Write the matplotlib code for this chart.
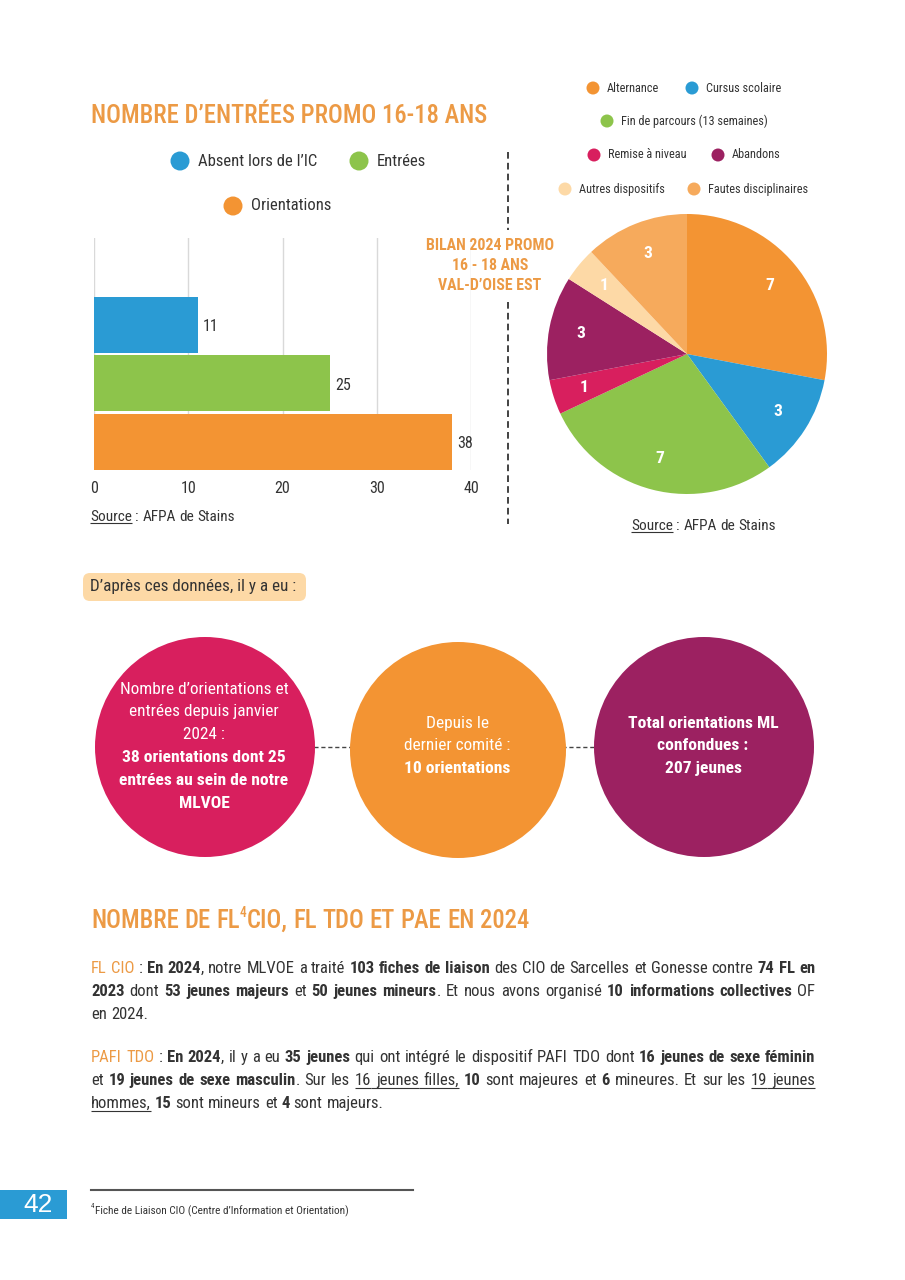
import numpy as np
import matplotlib
matplotlib.use('Agg')
import matplotlib.pyplot as plt
from matplotlib import font_manager as fm
from matplotlib.patches import Circle, FancyBboxPatch, Rectangle

# ---------------- data ----------------
bar_categories = ["Orientations", "Entrées", "Absent lors de l’IC"]
bar_values = [38, 25, 11]
bar_ticks = [0, 10, 20, 30, 40]

pie_labels = ["Alternance", "Cursus scolaire", "Fin de parcours (13 semaines)",
              "Remise à niveau", "Abandons", "Autres dispositifs", "Fautes disciplinaires"]
pie_values = [7, 3, 7, 1, 3, 1, 3]

circle_normal = [["Nombre d’orientations et", "entrées depuis janvier", "2024 :"],
                 ["Depuis le", "dernier comité :"],
                 []]
circle_bold = [["38 orientations dont 25", "entrées au sein de notre", "MLVOE"],
               ["10 orientations"],
               ["Total orientations ML", "confondues :", "207 jeunes"]]

title1 = "NOMBRE D’ENTRÉES PROMO 16-18 ANS"
bilan_lines = ["BILAN 2024 PROMO", "16 - 18 ANS", "VAL-D’OISE EST"]

# ---------------- colours ----------------
ORANGE = '#F39433'; BLUE = '#2A9BD4'; GREEN = '#8DC44B'; CRIMSON = '#D81F5E'
PURPLE = '#9C2161'; PEACH = '#FDD9A6'; LORANGE = '#F6AA5C'; TITLE = '#EC9A45'
TXT = '#333333'
bar_colors = [ORANGE, GREEN, BLUE]
pie_colors = [ORANGE, BLUE, GREEN, CRIMSON, PURPLE, PEACH, LORANGE]
circle_colors = [CRIMSON, ORANGE, PURPLE]

# ---------------- fonts ----------------
_entries = fm.fontManager.ttflist
_names = {f.name for f in _entries}
FAM, STRETCH = 'Roboto', 'normal'
for cand in ['Roboto Condensed', 'Liberation Sans Narrow', 'Open Sans Condensed']:
    if cand in _names:
        FAM = cand
        break
else:
    if any(f.name == 'DejaVu Sans' and str(f.stretch) in ('condensed', 'semi-condensed')
           for f in _entries):
        FAM, STRETCH = 'DejaVu Sans', 'condensed'
plt.rcParams['font.family'] = [FAM, 'DejaVu Sans']
plt.rcParams['font.stretch'] = STRETCH

# ---------------- figure ----------------
fig = plt.figure(figsize=(9.05, 12.8), dpi=100)
fig.patch.set_facecolor('white')
ax0 = fig.add_axes([0, 0, 1, 1])
ax0.set_xlim(0, 905)
ax0.set_ylim(1280, 0)
ax0.axis('off')
R = fig.canvas.get_renderer()


def width_of(s, size, weight='normal'):
    t = ax0.text(0, 0, s, fontsize=size, fontweight=weight)
    w = t.get_window_extent(renderer=R).width
    t.remove()
    return w


def fit(s, target, weight='normal'):
    return 20.0 * target / width_of(s, 20.0, weight)


def style_kw(st, size, color, base_weight):
    kw = dict(fontsize=size, color=color, fontweight=base_weight)
    if 'b' in st:
        kw['fontweight'] = 'bold'
    if 'o' in st:
        kw['color'] = TITLE
    if 's' in st:
        kw['fontsize'] = size * 0.55
    return kw


def draw_line(x, y, pieces, size, width=None, measure=False, color=TXT, base_weight='normal'):
    words = [[]]
    for text, st in pieces:
        buf = ''
        for ch in text:
            if ch == ' ':
                if buf:
                    words[-1].append((buf, st))
                    buf = ''
                if words[-1]:
                    words.append([])
            else:
                buf += ch
        if buf:
            words[-1].append((buf, st))
    words = [w for w in words if w]
    sp = width_of('x x', size) - width_of('xx', size)
    objs, wws = [], []
    for w in words:
        row, tot = [], 0
        for text, st in w:
            t = ax0.text(0, y, text, va='baseline', ha='left',
                         **style_kw(st, size, color, base_weight))
            ww = t.get_window_extent(renderer=R).width
            row.append((t, ww, st))
            tot += ww
        objs.append(row)
        wws.append(tot)
    natural = sum(wws) + sp * (len(words) - 1)
    if measure:
        for row in objs:
            for t, _, _ in row:
                t.remove()
        return natural
    gap = sp
    if width is not None and len(words) > 1:
        gap = (width - sum(wws)) / (len(words) - 1)
    px = size * 100 / 72
    cx = x
    last_u_end = None
    for row in objs:
        for t, ww, st in row:
            yy = y - (0.45 * px if 's' in st else 0)
            t.set_position((cx, yy))
            if 'u' in st:
                us = last_u_end if last_u_end is not None else cx
                ax0.plot([us, cx + ww], [y + 0.16 * px, y + 0.16 * px],
                         color=t.get_color(), lw=0.8, solid_capstyle='butt')
                last_u_end = cx + ww
            else:
                last_u_end = None
            cx += ww
        cx += gap
    return natural


# ---------------- title 1 ----------------
TW = 500
t1_size = min(fit(title1, 397, TW), 30)
ax0.text(91, 123, title1, fontsize=t1_size, fontweight=TW, color=TITLE, va='baseline')

# ---------------- bar legend ----------------
leg_size = fit("Absent lors de l’IC", 119)
bar_leg_pos = [(233, 206), (359, 161), (180, 161)]  # Orientations, Entrées, Absent
for (cx, cy), lab, col in zip(bar_leg_pos, bar_categories, bar_colors):
    ax0.add_patch(Circle((cx, cy), 9.5, color=col, lw=0))
    ax0.text(cx + 18, cy, lab, fontsize=leg_size, color=TXT, va='center', ha='left')

# ---------------- bar chart ----------------
axb = fig.add_axes([94 / 905, 1 - 470 / 1280, 377 / 905, 232 / 1280])
axb.patch.set_alpha(0)
ypos = np.arange(len(bar_values))
axb.barh(ypos, bar_values, height=0.96, color=bar_colors, zorder=3)
axb.set_xlim(0, 40)
axb.set_ylim(-0.48, 3.48)
axb.set_xticks(bar_ticks)
axb.set_yticks([])
axb.grid(axis='x', color='#d9d9d9', lw=1, zorder=0)
for s in axb.spines.values():
    s.set_visible(False)
axb.tick_params(axis='x', length=0, pad=8, labelsize=11.5, labelcolor=TXT)
for y, v in zip(ypos, bar_values):
    axb.text(v + 0.55, y - 0.03, str(v), va='center', ha='left', fontsize=11.5, color=TXT, zorder=4)

src_size = fit("Source : AFPA de Stains", 145)
draw_line(90, 521, [("Source", 'u'), (" : AFPA de Stains", '')], src_size)

# ---------------- separator + bilan ----------------
ax0.plot([508, 508], [152, 230], color='#222222', lw=1.2, ls=(0, (4, 2.5)))
ax0.plot([508, 508], [302, 524], color='#222222', lw=1.2, ls=(0, (4, 2.5)))
bil_size = fit(bilan_lines[0], 129, 'bold')
for i, line in enumerate(bilan_lines):
    ax0.text(490, 245 + i * 20, line, fontsize=bil_size, fontweight='bold', color=TITLE,
             ha='center', va='center')

# ---------------- pie legend ----------------
pleg_size = fit("Fin de parcours (13 semaines)", 147)
pie_leg_pos = [(593, 88), (692, 88), (607, 121), (594, 155), (718, 155), (565, 189), (694, 189)]
for (cx, cy), lab, col in zip(pie_leg_pos, pie_labels, pie_colors):
    ax0.add_patch(Circle((cx, cy), 6.5, color=col, lw=0))
    ax0.text(cx + 14, cy, lab, fontsize=pleg_size, color=TXT, va='center', ha='left')

# ---------------- pie ----------------
axp = fig.add_axes([547 / 905, 1 - 494 / 1280, 280 / 905, 280 / 1280])
wedges, _ = axp.pie(pie_values, colors=pie_colors, startangle=90, counterclock=False,
                    wedgeprops=dict(linewidth=0))
axp.set_xlim(-1, 1)
axp.set_ylim(-1, 1)
for w, v in zip(wedges, pie_values):
    a = np.deg2rad((w.theta1 + w.theta2) / 2)
    axp.text(0.77 * np.cos(a), 0.77 * np.sin(a), str(v), ha='center', va='center',
             color='white', fontsize=12.5, fontweight='bold')

draw_line(631, 530, [("Source", 'u'), (" : AFPA de Stains", '')], src_size)

# ---------------- tag ----------------
ax0.add_patch(FancyBboxPatch((83, 573), 223, 28, boxstyle='round,pad=0,rounding_size=7',
                             fc=PEACH, ec='none'))
tag_size = fit("D’après ces données, il y a eu :", 206)
ax0.text(90, 587, "D’après ces données, il y a eu :", fontsize=tag_size, color=TXT,
         va='center', ha='left')

# ---------------- circles ----------------
circ_pos = [(205, 747, 110), (458, 750, 108), (704, 747, 110)]
ax0.plot([300, 360], [747, 747], color='#444444', lw=1, ls=(0, (3, 2)), zorder=1)
ax0.plot([555, 610], [747, 747], color='#444444', lw=1, ls=(0, (3, 2)), zorder=1)
cn_size = fit("Nombre d’orientations et", 168)
cb_size = fit("entrées au sein de notre", 168, 'bold')
for (cx, cy, r), col, nl, bl in zip(circ_pos, circle_colors, circle_normal, circle_bold):
    ax0.add_patch(Circle((cx, cy), r, color=col, lw=0, zorder=2))
    lines = [(l, 'normal', cn_size) for l in nl] + [(l, 'bold', cb_size) for l in bl]
    n = len(lines)
    y0 = 746 - (n - 1) / 2 * 22.8
    for i, (l, wgt, sz) in enumerate(lines):
        ax0.text(cx - 1, y0 + i * 22.8, l, fontsize=sz, fontweight=wgt, color='white',
                 ha='center', va='center', zorder=3)

# ---------------- title 2 ----------------
draw_line(91, 928, [("NOMBRE DE FL", 'o'), ("4", 'os'), ("CIO, FL TDO ET PAE EN 2024", 'o')],
          t1_size, base_weight=TW)

# ---------------- paragraphs ----------------
p1 = [
    [("FL CIO", 'o'), (" : ", ''), ("En 2024", 'b'), (", notre MLVOE a traité ", ''),
     ("103 fiches de liaison", 'b'), (" des CIO de Sarcelles et Gonesse contre ", ''), ("74 FL en", 'b')],
    [("2023", 'b'), (" dont ", ''), ("53 jeunes majeurs", 'b'), (" et ", ''), ("50 jeunes mineurs", 'b'),
     (". Et nous avons organisé ", ''), ("10 informations collectives", 'b'), (" OF", '')],
    [("en 2024.", '')],
]
p2 = [
    [("PAFI TDO", 'o'), (" : ", ''), ("En 2024", 'b'), (", il y a eu ", ''), ("35 jeunes", 'b'),
     (" qui ont intégré le dispositif PAFI TDO dont ", ''), ("16 jeunes de sexe féminin", 'b')],
    [("et ", ''), ("19 jeunes de sexe masculin", 'b'), (". Sur les ", ''), ("16 jeunes filles,", 'u'),
     (" ", ''), ("10", 'b'), (" sont majeures et ", ''), ("6", 'b'), (" mineures. Et sur les ", ''),
     ("19 jeunes", 'u')],
    [("hommes,", 'u'), (" ", ''), ("15", 'b'), (" sont mineurs et ", ''), ("4", 'b'),
     (" sont majeurs.", '')],
]
just = [p1[0], p1[1], p2[0], p2[1]]
body_size = min(10.0 * 724 * 0.985 / draw_line(0, 0, L, 10.0, measure=True) for L in just)
for i, L in enumerate(p1):
    draw_line(91, 973 + i * 23, L, body_size, width=724 if i < 2 else None)
for i, L in enumerate(p2):
    draw_line(91, 1062 + i * 23, L, body_size, width=724 if i < 2 else None)

# ---------------- footer ----------------
ax0.plot([91, 413], [1190, 1190], color='#555555', lw=1.5)
fn_text = "Fiche de Liaison CIO (Centre d’Information et Orientation)"
fn_size = fit(fn_text, 253)
ax0.text(91, 1208, "4", fontsize=fn_size * 0.6, color=TXT, va='baseline', ha='left')
ax0.text(95, 1214, fn_text, fontsize=fn_size, color=TXT, va='baseline', ha='left')
ax0.add_patch(Rectangle((0, 1190), 67, 29, color=BLUE, lw=0))
ax0.text(38, 1205, "42", fontsize=19, color='white', ha='center', va='center',
         family=['Liberation Sans', 'DejaVu Sans'])

fig.savefig('out.png', dpi=100, facecolor='white')
